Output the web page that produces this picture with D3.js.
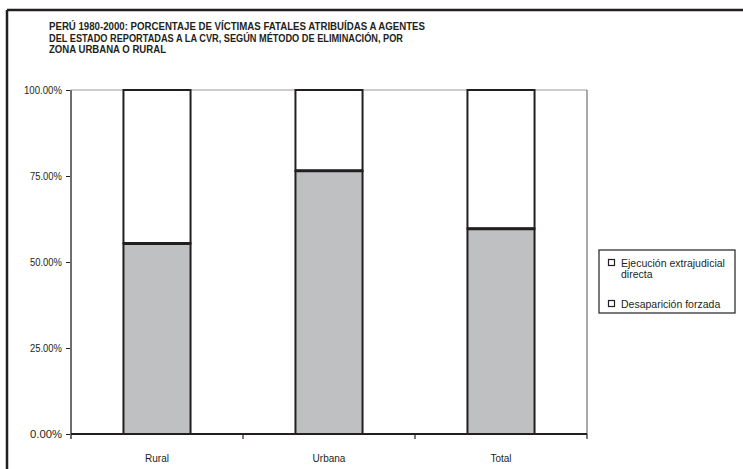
<!DOCTYPE html>
<html>
<head>
<meta charset="utf-8">
<script src="https://cdn.jsdelivr.net/npm/d3@7"></script>
<style>
  html, body { margin: 0; padding: 0; background: #fff; }
  svg { display: block; }
  text { font-family: "Liberation Sans", Arial, sans-serif; fill: #231f20; }
</style>
</head>
<body>
<svg id="chart" width="743" height="469"></svg>
<script>
// Porcentaje de víctimas fatales por zona y método de eliminación
const categories = ["Rural", "Urbana", "Total"];
const desaparicion = [55.4, 76.5, 59.7];   // segmento inferior (gris)
const ejecucion = [44.6, 23.5, 40.3];      // segmento superior (blanco)
const yTicks = [0, 25, 50, 75, 100];
const legendLabels = [["Ejecución extrajudicial", "directa"], ["Desaparición forzada"]];
const titleLines = [
  "PERÚ 1980-2000: PORCENTAJE DE VÍCTIMAS FATALES ATRIBUÍDAS A AGENTES",
  "DEL ESTADO REPORTADAS A LA CVR, SEGÚN MÉTODO DE ELIMINACIÓN, POR",
  "ZONA URBANA O RURAL"
];
const titleWidths = [376, 354, 117];

const rows = categories.map((c, i) => ({ cat: c, desaparicion: desaparicion[i], ejecucion: ejecucion[i] }));
const stacked = d3.stack().keys(["desaparicion", "ejecucion"])(rows);

const svg = d3.select("#chart");
const plot = { left: 71, right: 587, top: 90, bottom: 434 };

const x = d3.scaleBand().domain(categories).range([plot.left, plot.right]);
const y = d3.scaleLinear().domain([0, 100]).range([plot.bottom, plot.top]);
const barW = x.bandwidth() * 0.39;

// Marco exterior (superior e izquierdo)
svg.append("line").attr("x1", 7).attr("x2", 743).attr("y1", 10).attr("y2", 10)
  .attr("stroke", "#231f20").attr("stroke-width", 2.5);
svg.append("line").attr("x1", 7).attr("x2", 7).attr("y1", 10).attr("y2", 469)
  .attr("stroke", "#231f20").attr("stroke-width", 2.5);

// Título (tres líneas, tipografía condensada)
titleLines.forEach((t, i) => {
  svg.append("text").attr("x", 49).attr("y", 29.8 + i * 11.7)
    .style("font-weight", "bold").style("font-size", "11px")
    .attr("textLength", titleWidths[i]).attr("lengthAdjust", "spacingAndGlyphs")
    .text(t);
});

// Borde del área de trazado
svg.append("line").attr("x1", plot.left).attr("x2", plot.right).attr("y1", plot.top).attr("y2", plot.top)
  .attr("stroke", "#9a9a9a").attr("stroke-width", 1);
svg.append("line").attr("x1", plot.right).attr("x2", plot.right).attr("y1", plot.top).attr("y2", plot.bottom)
  .attr("stroke", "#555").attr("stroke-width", 1);

// Barras apiladas
const fills = { desaparicion: "#bfc0c2", ejecucion: "#ffffff" };
stacked.forEach(layer => {
  svg.append("g").selectAll("rect").data(layer).join("rect")
    .attr("x", d => x(d.data.cat) + (x.bandwidth() - barW) / 2)
    .attr("width", barW)
    .attr("y", d => y(d[1]))
    .attr("height", d => y(d[0]) - y(d[1]))
    .attr("fill", fills[layer.key])
    .attr("stroke", "#231f20")
    .attr("stroke-width", 2);
});
// Línea divisoria entre segmentos
svg.append("g").selectAll("line").data(stacked[0]).join("line")
  .attr("x1", d => x(d.data.cat) + (x.bandwidth() - barW) / 2)
  .attr("x2", d => x(d.data.cat) + (x.bandwidth() + barW) / 2)
  .attr("y1", d => y(d[1])).attr("y2", d => y(d[1]))
  .attr("stroke", "#231f20").attr("stroke-width", 3);

// Eje Y
const yAxis = svg.append("g").attr("transform", `translate(${plot.left},0)`)
  .call(d3.axisLeft(y).tickValues(yTicks).tickSize(5).tickPadding(4)
    .tickFormat(d => d.toFixed(2) + "%"));
yAxis.select(".domain").remove();
yAxis.selectAll(".tick line").attr("stroke", "#231f20");
yAxis.selectAll(".tick text").style("font-size", "10px").style("font-family", null)
  .attr("fill", "#231f20").attr("textLength", 38).attr("lengthAdjust", "spacingAndGlyphs");
yAxis.selectAll(".tick text").filter(d => d < 100).attr("textLength", 32);
svg.append("line").attr("x1", plot.left).attr("x2", plot.left).attr("y1", plot.top).attr("y2", plot.bottom + 5)
  .attr("stroke", "#6d6e70").attr("stroke-width", 2);

// Eje X
const xAxis = svg.append("g").attr("transform", `translate(0,${plot.bottom})`)
  .call(d3.axisBottom(x).tickSize(0).tickPadding(21));
xAxis.select(".domain").remove();
xAxis.selectAll(".tick text").style("font-size", "10px").style("font-family", null).attr("fill", "#231f20");
svg.append("line").attr("x1", plot.left).attr("x2", plot.right).attr("y1", plot.bottom).attr("y2", plot.bottom)
  .attr("stroke", "#231f20").attr("stroke-width", 2);
svg.append("g").selectAll("line").data(categories).join("line")
  .attr("x1", d => x(d) + x.bandwidth()).attr("x2", d => x(d) + x.bandwidth())
  .attr("y1", plot.bottom).attr("y2", plot.bottom + 5)
  .attr("stroke", "#231f20").attr("stroke-width", 1.2);

// Leyenda
const lg = svg.append("g");
lg.append("rect").attr("x", 599).attr("y", 250).attr("width", 136).attr("height", 63)
  .attr("fill", "#fff").attr("stroke", "#231f20").attr("stroke-width", 1.2);
const legendY = [259, 300];
legendLabels.forEach((lines, i) => {
  lg.append("rect").attr("x", 608.5).attr("y", legendY[i] + 0.5).attr("width", 6).attr("height", 6)
    .attr("fill", "#fff").attr("stroke", "#231f20").attr("stroke-width", 1.2);
  lines.forEach((t, j) => {
    lg.append("text").attr("x", 621).attr("y", legendY[i] + 7.5 + j * 11)
      .style("font-size", "10.5px").text(t);
  });
});
</script>
</body>
</html>
